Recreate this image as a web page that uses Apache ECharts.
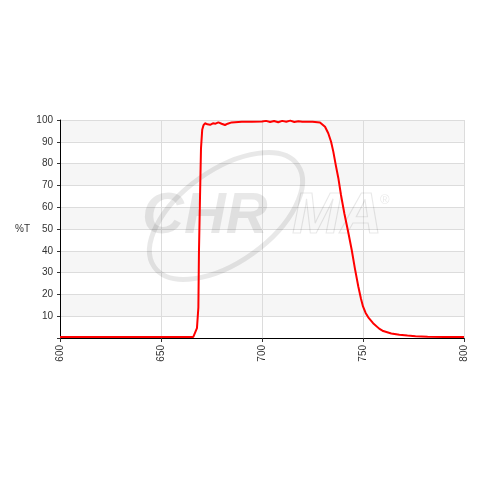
<!DOCTYPE html>
<html>
<head>
<meta charset="utf-8">
<script src="https://cdn.jsdelivr.net/npm/echarts@6/dist/echarts.min.js"></script>
<style>
  html, body { margin: 0; padding: 0; background: #fff; }
  #chart { width: 480px; height: 480px; }
</style>
</head>
<body>
<div id="chart"></div>
<script>
// wavelength (nm) and transmission (%T)
const wavelengths = [
  600, 666, 666.8, 667.8, 668.5, 668.8, 669.3, 669.8, 670.4, 671, 671.8, 673, 674.3,
  675.7, 677, 678.4, 680, 681.7, 683, 685, 690, 695, 700, 702, 704, 706, 708, 710,
  712, 714, 716, 718, 720, 725, 728.7, 731.2, 732.8, 734.2, 735.3, 736.5, 737.8,
  739.1, 740.8, 742.7, 744.4, 746, 747.7, 749, 750, 751.3, 752.6, 755, 758, 760, 764,
  768, 772, 776, 782, 790, 800
];
const transmission = [
  0.5, 0.5, 0.8, 4.5, 14, 40, 64, 87, 95.5, 97.5, 98.5, 98, 97.8,
  98.5, 98.3, 98.9, 98.3, 97.7, 98.3, 98.9, 99.2, 99.2, 99.3, 99.6, 99.1, 99.5, 99.0, 99.6,
  99.2, 99.7, 99.1, 99.4, 99.2, 99.2, 98.9, 96.9, 93.9, 90, 85.5, 79.4, 73.3,
  65.6, 57, 48.5, 40.5, 31.8, 23.5, 18, 14.5, 11.5, 9.5, 6.8, 4.3, 3.2, 2.1,
  1.5, 1.1, 0.8, 0.6, 0.5, 0.5
];
const xTicks = [600, 650, 700, 750, 800];
const yTicks = [0, 10, 20, 30, 40, 50, 60, 70, 80, 90, 100];

const chart = echarts.init(document.getElementById('chart'), null, { renderer: 'canvas' });
const font = 'Liberation Sans, Arial, sans-serif';
const wm = 'rgba(0,0,0,0.09)';

chart.setOption({
  animation: false,
  grid: { left: 60, right: 16, top: 120, bottom: 142 },
  xAxis: {
    type: 'value',
    min: xTicks[0],
    max: xTicks[xTicks.length - 1],
    interval: 50,
    axisLine: { lineStyle: { color: '#000', width: 1 } },
    axisTick: { show: true, length: 4, lineStyle: { color: '#333' } },
    axisLabel: { rotate: 90, color: '#333', fontSize: 10, fontFamily: font, margin: 7 },
    splitLine: { lineStyle: { color: '#dcdcdc' } }
  },
  yAxis: {
    type: 'value',
    min: yTicks[0],
    max: yTicks[yTicks.length - 1],
    interval: 10,
    name: '%T',
    nameLocation: 'middle',
    nameRotate: 0,
    nameGap: 30,
    nameTextStyle: { color: '#333', fontSize: 10, fontFamily: font },
    axisLine: { show: true, lineStyle: { color: '#000', width: 1 } },
    axisTick: { show: true, length: 3, lineStyle: { color: '#333' } },
    axisLabel: {
      color: '#333', fontSize: 10, fontFamily: font, margin: 7,
      formatter: (v) => (v === 0 ? '' : String(v))
    },
    splitLine: { lineStyle: { color: '#dcdcdc' } },
    splitArea: { show: true, areaStyle: { color: ['#ffffff', '#f6f6f6'] } }
  },
  // faint CHROMA logo behind the trace
  graphic: [
    {
      type: 'ellipse', z: 1, silent: true,
      x: 226, y: 216, rotation: 0.62,
      shape: { cx: 0, cy: 0, rx: 88, ry: 46 },
      style: { fill: 'none', stroke: wm, lineWidth: 5 }
    },
    {
      type: 'text', z: 1, silent: true, x: 142, y: 217,
      style: { text: 'CHR', fill: wm, font: 'italic bold 58px ' + font, verticalAlign: 'middle' }
    },
    {
      type: 'text', z: 1, silent: true, x: 292, y: 217,
      style: { text: 'MA', fill: 'none', stroke: wm, lineWidth: 1.2, font: 'italic bold 58px ' + font, verticalAlign: 'middle' }
    },
    {
      type: 'text', z: 1, silent: true, x: 380, y: 200,
      style: { text: '®', fill: wm, font: '13px ' + font, verticalAlign: 'middle' }
    }
  ],
  series: [
    {
      type: 'line',
      data: wavelengths.map((w, i) => [w, transmission[i]]),
      showSymbol: false,
      lineStyle: { color: '#ff0000', width: 2 },
      z: 3
    }
  ]
});
</script>
</body>
</html>
